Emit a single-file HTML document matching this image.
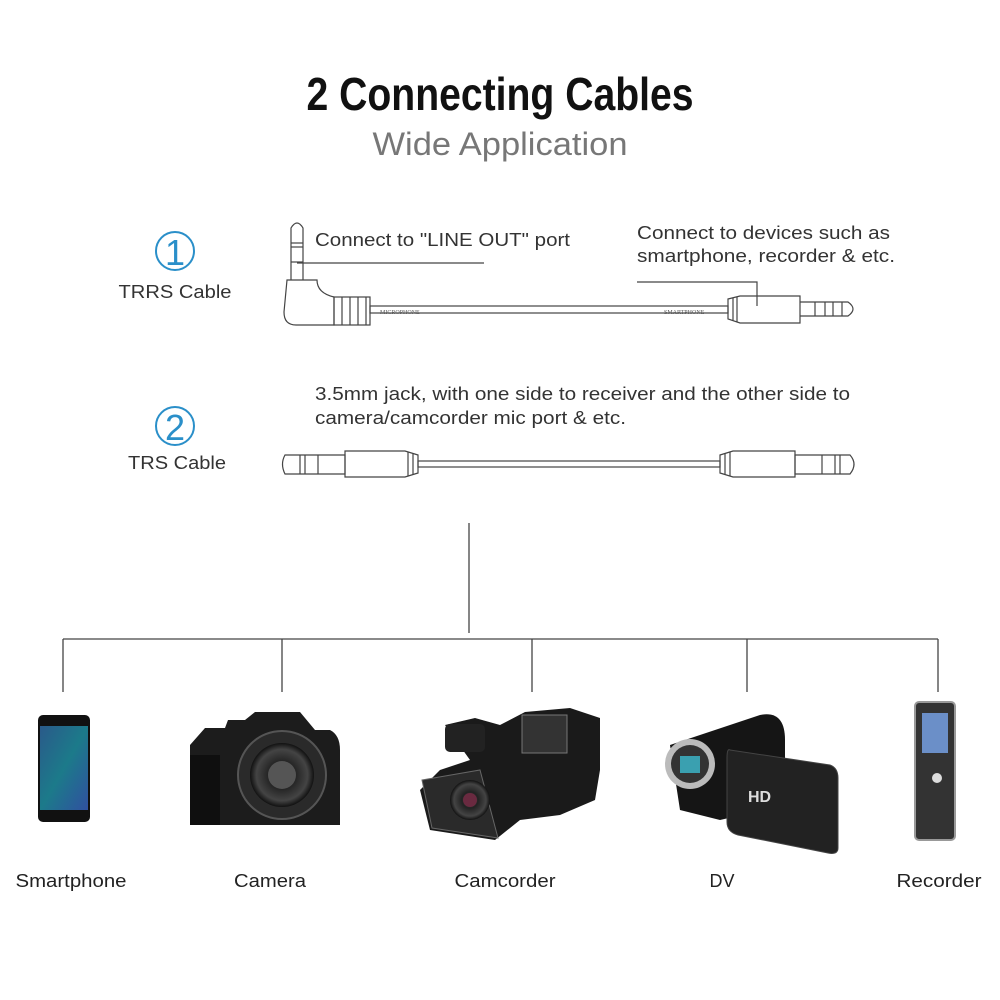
<!DOCTYPE html>
<html><head><meta charset="utf-8"><style>
html,body{margin:0;padding:0;background:#fff;}
svg{display:block;font-family:"Liberation Sans",sans-serif;}
</style></head><body>
<svg width="1000" height="1000" viewBox="0 0 1000 1000" xmlns="http://www.w3.org/2000/svg">
<defs>
<linearGradient id="scr" x1="0" y1="0" x2="1" y2="1"><stop offset="0" stop-color="#2a5a8a"/><stop offset="0.5" stop-color="#1c7a8a"/><stop offset="1" stop-color="#3050a0"/></linearGradient>
<radialGradient id="lens" cx="0.5" cy="0.5" r="0.5"><stop offset="0" stop-color="#666"/><stop offset="0.4" stop-color="#222"/><stop offset="0.8" stop-color="#444"/><stop offset="1" stop-color="#111"/></radialGradient>
</defs>
<text x="500" y="110" text-anchor="middle" font-size="46" font-weight="bold" fill="#111" textLength="387" lengthAdjust="spacingAndGlyphs">2 Connecting Cables</text>
<text x="500" y="155" text-anchor="middle" font-size="32" fill="#777" textLength="255" lengthAdjust="spacingAndGlyphs">Wide Application</text>

<circle cx="175" cy="251" r="19" fill="none" stroke="#2a8fc9" stroke-width="2"/>
<text x="175" y="265" text-anchor="middle" font-size="36" fill="#2a8fc9">1</text>
<text x="175" y="298" text-anchor="middle" font-size="18" fill="#333" textLength="113" lengthAdjust="spacingAndGlyphs">TRRS Cable</text>
<circle cx="175" cy="426" r="19" fill="none" stroke="#2a8fc9" stroke-width="2"/>
<text x="175" y="440" text-anchor="middle" font-size="36" fill="#2a8fc9">2</text>
<text x="177" y="469" text-anchor="middle" font-size="18" fill="#333" textLength="98" lengthAdjust="spacingAndGlyphs">TRS Cable</text>

<g fill="none" stroke="#444" stroke-width="1.2">
<path d="M291 280 V228 Q297 218 303 228 V280"/>
<line x1="291" y1="243" x2="303" y2="243"/><line x1="291" y1="247" x2="303" y2="247"/><line x1="291" y1="262" x2="303" y2="262"/>
<path d="M287 280 H317 Q317 293 334 297 V325 H296 Q284 325 284 312 Z"/>
<rect x="334" y="297" width="36" height="28"/>
<line x1="342" y1="297" x2="342" y2="325"/><line x1="350" y1="297" x2="350" y2="325"/><line x1="358" y1="297" x2="358" y2="325"/><line x1="366" y1="297" x2="366" y2="325"/>
<rect x="370" y="306" width="358" height="7"/>
<path d="M728 299 L740 296 H800 V323 H740 L728 319 Z"/>
<line x1="733" y1="298" x2="733" y2="321"/><line x1="737" y1="297" x2="737" y2="322"/>
<path d="M800 302 H848 Q858 309 848 316 H800"/>
<line x1="815" y1="302" x2="815" y2="316"/><line x1="825" y1="302" x2="825" y2="316"/><line x1="833" y1="302" x2="833" y2="316"/><line x1="842" y1="302" x2="842" y2="316"/>
<polyline points="297,263 484,263"/>
<polyline points="637,282 757,282 757,306"/>
<path d="M345 455 V474 H285 Q280 464 285 455 Z"/>
<line x1="300" y1="455" x2="300" y2="474"/><line x1="305" y1="455" x2="305" y2="474"/><line x1="318" y1="455" x2="318" y2="474"/>
<path d="M345 451 H405 L418 455 V473 L405 477 H345 Z"/>
<line x1="408" y1="452" x2="408" y2="476"/><line x1="413" y1="453" x2="413" y2="475"/>
<rect x="418" y="461" width="302" height="6"/>
<path d="M795 451 H733 L720 455 V473 L733 477 H795 Z"/>
<line x1="725" y1="453" x2="725" y2="475"/><line x1="730" y1="452" x2="730" y2="476"/>
<path d="M795 455 V474 H850 Q858 464 850 455 Z"/>
<line x1="835" y1="455" x2="835" y2="474"/><line x1="840" y1="455" x2="840" y2="474"/><line x1="822" y1="455" x2="822" y2="474"/>
</g>
<text x="315" y="246" font-size="18" fill="#333" textLength="255" lengthAdjust="spacingAndGlyphs">Connect to "LINE OUT" port</text>
<text x="637" y="239" font-size="18" fill="#333" textLength="253" lengthAdjust="spacingAndGlyphs">Connect to devices such as</text>
<text x="637" y="262" font-size="18" fill="#333" textLength="258" lengthAdjust="spacingAndGlyphs">smartphone, recorder &amp; etc.</text>
<text x="315" y="400" font-size="18" fill="#333" textLength="535" lengthAdjust="spacingAndGlyphs">3.5mm jack, with one side to receiver and the other side to</text>
<text x="315" y="424" font-size="18" fill="#333" textLength="311" lengthAdjust="spacingAndGlyphs">camera/camcorder mic port &amp; etc.</text>
<text x="380" y="314" font-size="6" fill="#555" font-family="Liberation Serif">MICROPHONE</text>
<text x="664" y="314" font-size="6" fill="#555" font-family="Liberation Serif">SMARTPHONE</text>

<g stroke="#444" stroke-width="1.3" fill="none">
<line x1="469" y1="523" x2="469" y2="633"/>
<line x1="63" y1="639" x2="938" y2="639"/>
<line x1="63" y1="639" x2="63" y2="692"/><line x1="282" y1="639" x2="282" y2="692"/><line x1="532" y1="639" x2="532" y2="692"/><line x1="747" y1="639" x2="747" y2="692"/><line x1="938" y1="639" x2="938" y2="692"/>
</g>

<rect x="38" y="715" width="52" height="107" rx="5" fill="#111"/>
<rect x="40" y="726" width="48" height="84" fill="url(#scr)"/>
<path d="M190 745 L205 728 H225 L228 720 H245 L255 712 H300 L315 730 H330 Q340 735 340 750 V825 H190 Z" fill="#1c1c1c"/>
<circle cx="282" cy="775" r="44" fill="#2a2a2a" stroke="#555" stroke-width="2"/>
<circle cx="282" cy="775" r="32" fill="url(#lens)"/>
<circle cx="282" cy="775" r="14" fill="#555"/>
<rect x="190" y="755" width="30" height="70" fill="#0f0f0f"/>
<path d="M445 725 L475 718 L500 725 L525 712 L570 708 L600 718 V770 L595 800 L560 815 L520 820 L495 840 L430 830 L420 790 L440 770 L470 760 Z" fill="#1a1a1a"/>
<rect x="522" y="715" width="45" height="38" fill="#333" stroke="#777"/>
<rect x="445" y="724" width="40" height="28" rx="5" fill="#222"/>
<path d="M422 780 L480 770 L498 838 L432 828 Z" fill="#2a2a2a" stroke="#666"/>
<circle cx="470" cy="800" r="20" fill="url(#lens)"/>
<circle cx="470" cy="800" r="7" fill="#6a2a40"/>
<path d="M670 745 L760 715 Q785 710 785 740 V805 L720 820 L680 810 Z" fill="#151515"/>
<circle cx="690" cy="764" r="25" fill="#bbb"/>
<circle cx="690" cy="764" r="19" fill="#333"/>
<rect x="680" y="756" width="20" height="17" fill="#3aa0b0"/>
<path d="M730 750 L830 765 Q838 768 838 778 V848 Q838 855 828 853 L738 835 Q727 832 727 822 V758 Q727 748 730 750 Z" fill="#222" stroke="#444"/>
<text x="748" y="802" font-size="16" font-weight="bold" fill="#ddd">HD</text>
<rect x="915" y="702" width="40" height="138" rx="4" fill="#333" stroke="#999" stroke-width="2"/>
<rect x="922" y="713" width="26" height="40" fill="#6b8fc8"/>
<circle cx="937" cy="778" r="5" fill="#ddd"/>

<g font-size="18" fill="#222" text-anchor="middle">
<text x="71" y="887" textLength="111" lengthAdjust="spacingAndGlyphs">Smartphone</text>
<text x="270" y="887" textLength="72" lengthAdjust="spacingAndGlyphs">Camera</text>
<text x="505" y="887" textLength="101" lengthAdjust="spacingAndGlyphs">Camcorder</text>
<text x="722" y="887">DV</text>
<text x="939" y="887" textLength="85" lengthAdjust="spacingAndGlyphs">Recorder</text>
</g>
</svg>
</body></html>
